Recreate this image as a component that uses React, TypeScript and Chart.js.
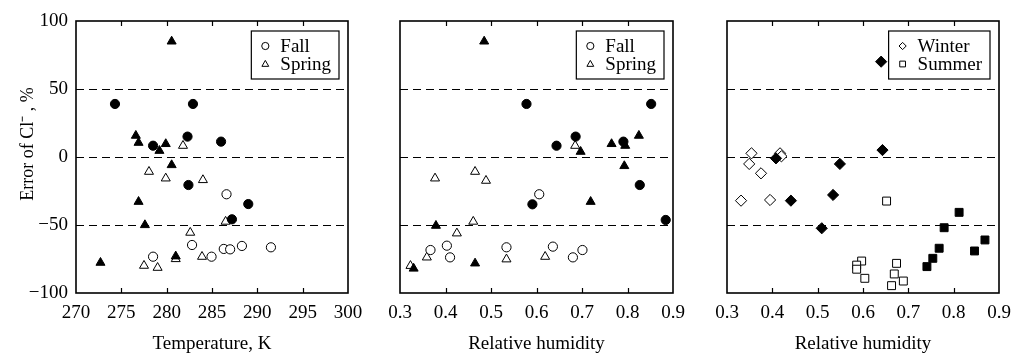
import React, { useEffect, useRef } from "react";
import { Chart, registerables } from "chart.js";

Chart.register(...registerables);

// ---------- Tick / level data ----------
const tempTicks = [270, 275, 280, 285, 290, 295, 300];
const rhTicks = [0.3, 0.4, 0.5, 0.6, 0.7, 0.8, 0.9];
const errTicks = [-100, -50, 0, 50, 100];
const dashLevels = [50, 0, -50];
const yTitle = "Error of Cl\u207B , %";

// ---------- Panel 1: error vs temperature ----------
const p1FallFilledX = [274.3, 282.9, 278.5, 282.3, 286.0, 282.4, 289.0, 287.2];
const p1FallFilledY = [39, 39, 8.3, 15, 11.3, -20.6, -34.6, -45.8];
const p1FallOpenX = [286.6, 282.8, 286.3, 287.0, 288.3, 291.5, 278.5, 284.95];
const p1FallOpenY = [-27.4, -64.7, -67.6, -67.9, -65.4, -66.4, -73.3, -73.3];
const p1SpringFilledX = [280.55, 276.6, 276.9, 279.9, 279.2, 280.55, 276.9, 277.6, 281.0, 272.7];
const p1SpringFilledY = [85, 15.7, 10.5, 9.6, 4.6, -5.9, -32.9, -50, -73, -77.7];
const p1SpringOpenX = [281.8, 278.05, 279.9, 284.0, 286.5, 282.6, 281.0, 283.9, 277.5, 279.0];
const p1SpringOpenY = [8.3, -10.8, -15.7, -16.9, -47.5, -55.6, -75, -73.3, -79.9, -81.4];

// ---------- Panel 2: error vs relative humidity (fall/spring) ----------
const p2FallFilledX = [0.578, 0.852, 0.644, 0.686, 0.791, 0.827, 0.591, 0.884];
const p2FallFilledY = [39, 39, 8.3, 15, 11.3, -20.6, -34.8, -46.3];
const p2FallOpenX = [0.606, 0.403, 0.367, 0.41, 0.534, 0.636, 0.68, 0.701];
const p2FallOpenY = [-27.4, -65.2, -68.4, -73.8, -66.4, -65.9, -73.8, -68.4];
const p2SpringFilledX = [0.485, 0.697, 0.765, 0.795, 0.825, 0.793, 0.719, 0.379, 0.465, 0.33];
const p2SpringFilledY = [85, 3.9, 9.6, 8.3, 15.7, -6.6, -32.9, -50.5, -78.2, -82];
const p2SpringOpenX = [0.685, 0.377, 0.465, 0.489, 0.461, 0.425, 0.359, 0.323, 0.534, 0.619];
const p2SpringOpenY = [8.3, -15.7, -10.8, -17.4, -47.5, -56.1, -73.8, -80, -75.2, -73.3];

// ---------- Panel 3: error vs relative humidity (winter/summer) ----------
const p3WinterFilledX = [0.64, 0.408, 0.549, 0.643, 0.441, 0.534, 0.509];
const p3WinterFilledY = [70.1, -1, -5.1, 5.1, -32.1, -27.9, -52.4];
const p3WinterOpenX = [0.354, 0.349, 0.417, 0.42, 0.375, 0.331, 0.395];
const p3WinterOpenY = [2.7, -5.1, 2.7, 0.5, -12, -32.1, -31.6];
const p3SummerFilledX = [0.812, 0.779, 0.869, 0.846, 0.768, 0.754, 0.741];
const p3SummerFilledY = [-40.7, -52, -61, -69.1, -67.1, -74.5, -80.6];
const p3SummerOpenX = [0.652, 0.597, 0.586, 0.586, 0.604, 0.674, 0.669, 0.689, 0.663];
const p3SummerOpenY = [-32.4, -76.5, -79.5, -82.5, -89.2, -78.2, -86, -91.2, -94.6];

const FONT = "'Liberation Serif', 'Times New Roman', serif";

const zip = (xs: number[], ys: number[]) => xs.map((x, i) => ({ x, y: ys[i] }));

const markerRadius: Record<string, number> = {
  circle: 4.6,
  triangle: 5.2,
  rectRot: 5.6,
  rect: 5.6,
};

function ds(label: string, xs: number[], ys: number[], style: string, filled: boolean) {
  return {
    label,
    data: zip(xs, ys),
    pointStyle: style,
    pointRadius: markerRadius[style],
    pointBorderWidth: 1,
    pointBorderColor: "#000",
    pointBackgroundColor: filled ? "#000" : "#fff",
    showLine: false,
  };
}

function drawMarker(ctx: CanvasRenderingContext2D, style: string, x: number, y: number, r: number) {
  ctx.beginPath();
  if (style === "circle") {
    ctx.arc(x, y, r, 0, Math.PI * 2);
  } else if (style === "triangle") {
    ctx.moveTo(x, y - r);
    ctx.lineTo(x + r * 0.95, y + r * 0.65);
    ctx.lineTo(x - r * 0.95, y + r * 0.65);
    ctx.closePath();
  } else if (style === "rectRot") {
    ctx.moveTo(x, y - r);
    ctx.lineTo(x + r, y);
    ctx.lineTo(x, y + r);
    ctx.lineTo(x - r, y);
    ctx.closePath();
  } else {
    ctx.rect(x - r * 0.8, y - r * 0.8, r * 1.6, r * 1.6);
  }
  ctx.fillStyle = "#fff";
  ctx.fill();
  ctx.strokeStyle = "#000";
  ctx.lineWidth = 1;
  ctx.stroke();
}

const framePlugin = {
  id: "frame",
  beforeDatasetsDraw(chart: any, _args: any, opts: any) {
    const { ctx, chartArea: a, scales } = chart;
    ctx.save();
    ctx.strokeStyle = "#000";
    // dashed reference levels
    ctx.lineWidth = 1.2;
    ctx.setLineDash([8, 5]);
    for (const v of dashLevels) {
      const y = Math.round(scales.y.getPixelForValue(v)) + 0.5;
      ctx.beginPath();
      ctx.moveTo(a.left, y);
      ctx.lineTo(a.right, y);
      ctx.stroke();
    }
    ctx.setLineDash([]);
    // inward tick marks on top and bottom
    ctx.lineWidth = 1.2;
    const ticks = scales.x.ticks.map((t: any) => t.value);
    for (let i = 1; i < ticks.length - 1; i++) {
      const x = Math.round(scales.x.getPixelForValue(ticks[i])) + 0.5;
      ctx.beginPath();
      ctx.moveTo(x, a.top);
      ctx.lineTo(x, a.top + 5);
      ctx.moveTo(x, a.bottom);
      ctx.lineTo(x, a.bottom - 5);
      ctx.stroke();
    }
    // frame
    ctx.lineWidth = 1.6;
    ctx.strokeRect(a.left, a.top, a.right - a.left, a.bottom - a.top);
    // rotated y-axis title
    if (opts && opts.yTitle) {
      ctx.translate(28, 144);
      ctx.rotate(-Math.PI / 2);
      ctx.font = `18px ${FONT}`;
      ctx.fillStyle = "#000";
      ctx.textAlign = "center";
      ctx.textBaseline = "middle";
      ctx.fillText(opts.yTitle, 0, 0);
    }
    ctx.restore();
  },
  afterDatasetsDraw(chart: any, _args: any, opts: any) {
    const items = opts && opts.items;
    if (!items || !items.length) return;
    const { ctx, chartArea: a } = chart;
    ctx.save();
    ctx.font = `19px ${FONT}`;
    ctx.textBaseline = "middle";
    ctx.textAlign = "left";
    let maxW = 0;
    for (const it of items) maxW = Math.max(maxW, ctx.measureText(it.label).width);
    const w = 29 + maxW + 8;
    const h = 48;
    const right = a.right - 9;
    const left = right - w;
    const top = a.top + 10;
    ctx.fillStyle = "#fff";
    ctx.fillRect(left, top, w, h);
    ctx.strokeStyle = "#000";
    ctx.lineWidth = 1.2;
    ctx.strokeRect(left, top, w, h);
    items.forEach((it: any, i: number) => {
      const cy = top + 15 + i * 18;
      drawMarker(ctx, it.style, left + 14, cy, 3.6);
      ctx.fillStyle = "#000";
      ctx.fillText(it.label, left + 29, cy + 1);
    });
    ctx.restore();
  },
};

const fmtErr = (v: number) => (v < 0 ? "\u2212" + Math.abs(v) : String(v));

function makeConfig(p: any) {
  return {
    type: "scatter",
    data: { datasets: p.datasets },
    plugins: [framePlugin],
    options: {
      responsive: false,
      animation: false,
      events: [],
      layout: { padding: p.padding },
      plugins: {
        legend: { display: false },
        tooltip: { enabled: false },
        frame: { items: p.legend, yTitle: p.showY ? yTitle : "" },
      },
      scales: {
        x: {
          type: "linear",
          min: p.xTicks[0],
          max: p.xTicks[p.xTicks.length - 1],
          afterBuildTicks: (s: any) => {
            s.ticks = p.xTicks.map((v: number) => ({ value: v }));
          },
          grid: { display: false, drawTicks: false },
          border: { display: false },
          ticks: {
            autoSkip: false,
            maxRotation: 0,
            padding: 9,
            color: "#000",
            font: { family: FONT, size: 19 },
            callback: (v: number) => p.xFmt(v),
          },
          title: {
            display: true,
            text: p.xTitle,
            color: "#000",
            font: { family: FONT, size: 19, lineHeight: 1 },
            padding: { top: 0, bottom: 0 },
          },
          afterFit: (s: any) => {
            s.height = 61;
          },
        },
        y: {
          type: "linear",
          display: p.showY,
          min: -100,
          max: 100,
          afterBuildTicks: (s: any) => {
            s.ticks = errTicks.map((v) => ({ value: v }));
          },
          grid: { display: false, drawTicks: false },
          border: { display: false },
          ticks: {
            autoSkip: false,
            padding: 8,
            color: "#000",
            font: { family: FONT, size: 19 },
            callback: (v: number) => fmtErr(v),
          },
          title: { display: false },
          afterFit: (s: any) => {
            s.width = p.showY ? 76 : 0;
          },
        },
      },
    },
  };
}

const panels = [
  {
    padding: { left: 0, top: 21, right: 672, bottom: 0 },
    showY: true,
    xTicks: tempTicks,
    xFmt: (v: number) => String(v),
    xTitle: "Temperature, K",
    legend: [
      { label: "Fall", style: "circle" },
      { label: "Spring", style: "triangle" },
    ],
    datasets: [
      ds("Fall (filled)", p1FallFilledX, p1FallFilledY, "circle", true),
      ds("Spring (filled)", p1SpringFilledX, p1SpringFilledY, "triangle", true),
      ds("Fall", p1FallOpenX, p1FallOpenY, "circle", false),
      ds("Spring", p1SpringOpenX, p1SpringOpenY, "triangle", false),
    ],
  },
  {
    padding: { left: 400, top: 21, right: 347, bottom: 0 },
    showY: false,
    xTicks: rhTicks,
    xFmt: (v: number) => v.toFixed(1),
    xTitle: "Relative humidity",
    legend: [
      { label: "Fall", style: "circle" },
      { label: "Spring", style: "triangle" },
    ],
    datasets: [
      ds("Fall (filled)", p2FallFilledX, p2FallFilledY, "circle", true),
      ds("Spring (filled)", p2SpringFilledX, p2SpringFilledY, "triangle", true),
      ds("Fall", p2FallOpenX, p2FallOpenY, "circle", false),
      ds("Spring", p2SpringOpenX, p2SpringOpenY, "triangle", false),
    ],
  },
  {
    padding: { left: 727, top: 21, right: 21, bottom: 0 },
    showY: false,
    xTicks: rhTicks,
    xFmt: (v: number) => v.toFixed(1),
    xTitle: "Relative humidity",
    legend: [
      { label: "Winter", style: "rectRot" },
      { label: "Summer", style: "rect" },
    ],
    datasets: [
      ds("Winter (filled)", p3WinterFilledX, p3WinterFilledY, "rectRot", true),
      ds("Summer (filled)", p3SummerFilledX, p3SummerFilledY, "rect", true),
      ds("Winter", p3WinterOpenX, p3WinterOpenY, "rectRot", false),
      ds("Summer", p3SummerOpenX, p3SummerOpenY, "rect", false),
    ],
  },
];

export default function App() {
  const r0 = useRef<HTMLCanvasElement>(null);
  const r1 = useRef<HTMLCanvasElement>(null);
  const r2 = useRef<HTMLCanvasElement>(null);

  useEffect(() => {
    const refs = [r0, r1, r2];
    const charts = panels.map((p, i) => new Chart(refs[i].current as HTMLCanvasElement, makeConfig(p) as any));
    return () => charts.forEach((c) => c.destroy());
  }, []);

  const cs: React.CSSProperties = { position: "absolute", left: 0, top: 0, width: 1020, height: 354 };
  return (
    <div style={{ position: "fixed", left: 0, top: 0, width: 1020, height: 354, background: "#fff" }}>
      <canvas ref={r0} width={1020} height={354} style={cs} />
      <canvas ref={r1} width={1020} height={354} style={cs} />
      <canvas ref={r2} width={1020} height={354} style={cs} />
    </div>
  );
}
